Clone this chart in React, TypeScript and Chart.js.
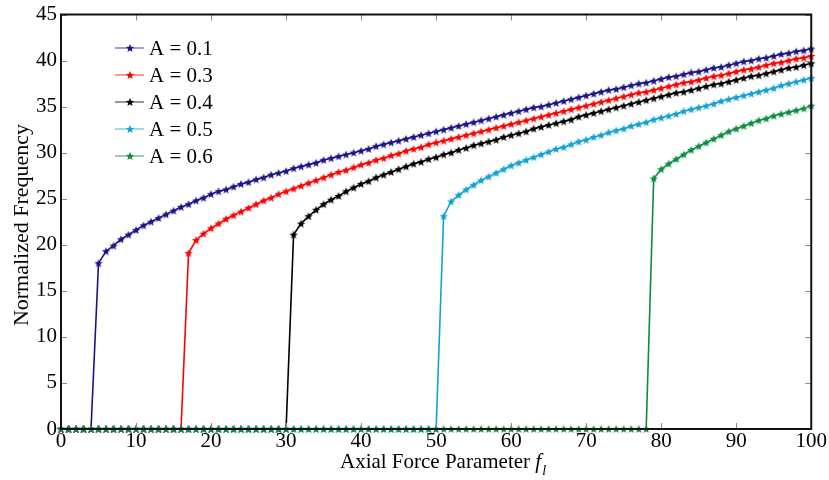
import React, { useEffect, useRef } from "react";
import { Chart, registerables } from "chart.js";

Chart.register(...registerables);

// x: axial force parameter f_l (integer steps 0..100)
const forceParam = [
  0, 1, 2, 3, 4, 5, 6, 7, 8, 9,
  10, 11, 12, 13, 14, 15, 16, 17, 18, 19,
  20, 21, 22, 23, 24, 25, 26, 27, 28, 29,
  30, 31, 32, 33, 34, 35, 36, 37, 38, 39,
  40, 41, 42, 43, 44, 45, 46, 47, 48, 49,
  50, 51, 52, 53, 54, 55, 56, 57, 58, 59,
  60, 61, 62, 63, 64, 65, 66, 67, 68, 69,
  70, 71, 72, 73, 74, 75, 76, 77, 78, 79,
  80, 81, 82, 83, 84, 85, 86, 87, 88, 89,
  90, 91, 92, 93, 94, 95, 96, 97, 98, 99,
  100,
];

const freqA01 = [
  0, 0, 0, 0, 0,
  18.0, 19.3, 19.9, 20.6, 21.1, 21.6, 22.1, 22.5, 22.9, 23.3,
  23.7, 24.1, 24.4, 24.8, 25.1, 25.5, 25.8, 26.0, 26.3, 26.6,
  26.8, 27.1, 27.3, 27.6, 27.8, 28.0, 28.3, 28.5, 28.7, 28.9,
  29.2, 29.4, 29.6, 29.8, 30.0, 30.2, 30.4, 30.7, 30.9, 31.1,
  31.3, 31.5, 31.7, 31.9, 32.1, 32.3, 32.5, 32.7, 32.9, 33.1,
  33.3, 33.5, 33.7, 33.9, 34.1, 34.3, 34.5, 34.7, 34.9, 35.0,
  35.2, 35.4, 35.6, 35.8, 36.0, 36.2, 36.4, 36.6, 36.8, 36.9,
  37.1, 37.3, 37.5, 37.6, 37.8, 38.0, 38.2, 38.3, 38.5, 38.7,
  38.8, 39.0, 39.2, 39.3, 39.5, 39.7, 39.9, 40.0, 40.2, 40.3,
  40.5, 40.7, 40.8, 41.0, 41.1, 41.3,
];

const freqA03 = [
  0, 0, 0, 0, 0, 0, 0, 0, 0, 0,
  0, 0, 0, 0, 0, 0, 0,
  19.1, 20.5, 21.2, 21.8, 22.3, 22.8, 23.2, 23.6,
  24.0, 24.4, 24.8, 25.1, 25.5, 25.8, 26.1, 26.4, 26.7, 27.0,
  27.3, 27.6, 27.9, 28.1, 28.4, 28.7, 28.9, 29.2, 29.4, 29.7,
  29.9, 30.2, 30.4, 30.6, 30.9, 31.1, 31.3, 31.5, 31.7, 31.9,
  32.1, 32.3, 32.5, 32.7, 32.9, 33.1, 33.3, 33.5, 33.7, 33.9,
  34.1, 34.3, 34.5, 34.7, 34.9, 35.1, 35.3, 35.5, 35.7, 35.9,
  36.1, 36.3, 36.5, 36.6, 36.8, 37.0, 37.2, 37.4, 37.6, 37.7,
  37.9, 38.1, 38.3, 38.4, 38.6, 38.8, 39.0, 39.1, 39.3, 39.5,
  39.7, 39.8, 40.0, 40.2, 40.3, 40.5,
];

const freqA04 = [
  0, 0, 0, 0, 0, 0, 0, 0, 0, 0,
  0, 0, 0, 0, 0, 0, 0, 0, 0, 0,
  0, 0, 0, 0, 0, 0, 0, 0, 0, 0,
  0,
  21.1, 22.3, 23.1, 23.8,
  24.4, 24.9, 25.3, 25.8, 26.2, 26.6, 26.9, 27.3, 27.6, 27.9,
  28.2, 28.5, 28.8, 29.0, 29.3, 29.5, 29.8, 30.0, 30.3, 30.5,
  30.8, 31.0, 31.2, 31.4, 31.7, 31.9, 32.1, 32.3, 32.6, 32.8,
  33.0, 33.2, 33.4, 33.6, 33.9, 34.1, 34.3, 34.5, 34.7, 34.9,
  35.1, 35.3, 35.5, 35.7, 35.9, 36.1, 36.3, 36.5, 36.6, 36.8,
  37.0, 37.2, 37.4, 37.5, 37.7, 37.9, 38.1, 38.3, 38.4, 38.6,
  38.8, 39.0, 39.2, 39.3, 39.5, 39.7,
];

const freqA05 = [
  0, 0, 0, 0, 0, 0, 0, 0, 0, 0,
  0, 0, 0, 0, 0, 0, 0, 0, 0, 0,
  0, 0, 0, 0, 0, 0, 0, 0, 0, 0,
  0, 0, 0, 0, 0, 0, 0, 0, 0, 0,
  0, 0, 0, 0, 0, 0, 0, 0, 0, 0,
  0,
  23.1, 24.7, 25.4, 26.0,
  26.5, 27.0, 27.4, 27.8, 28.2, 28.6, 28.9, 29.2, 29.5, 29.8,
  30.1, 30.4, 30.6, 30.9, 31.2, 31.4, 31.7, 31.9, 32.2, 32.4,
  32.6, 32.9, 33.1, 33.3, 33.6, 33.8, 34.0, 34.2, 34.5, 34.7,
  34.9, 35.1, 35.3, 35.6, 35.8, 36.0, 36.2, 36.4, 36.6, 36.8,
  37.0, 37.3, 37.5, 37.7, 37.9, 38.1,
];

const freqA06 = [
  0, 0, 0, 0, 0, 0, 0, 0, 0, 0,
  0, 0, 0, 0, 0, 0, 0, 0, 0, 0,
  0, 0, 0, 0, 0, 0, 0, 0, 0, 0,
  0, 0, 0, 0, 0, 0, 0, 0, 0, 0,
  0, 0, 0, 0, 0, 0, 0, 0, 0, 0,
  0, 0, 0, 0, 0, 0, 0, 0, 0, 0,
  0, 0, 0, 0, 0, 0, 0, 0, 0, 0,
  0, 0, 0, 0, 0, 0, 0, 0, 0,
  27.2, 28.2, 28.8, 29.3, 29.8, 30.3,
  30.7, 31.1, 31.5, 31.9, 32.3, 32.6, 32.9, 33.2, 33.5, 33.7,
  34.0, 34.2, 34.4, 34.6, 34.8, 35.1,
];

const seriesLabels = ["A = 0.1", "A = 0.3", "A = 0.4", "A = 0.5", "A = 0.6"];
const seriesValues = [freqA01, freqA03, freqA04, freqA05, freqA06];
const seriesColors = ["#1c1486", "#ff0000", "#000000", "#12a2d2", "#0c8c40"];

const xTickValues = [0, 10, 20, 30, 40, 50, 60, 70, 80, 90, 100];
const yTickValues = [0, 5, 10, 15, 20, 25, 30, 35, 40, 45];

const xTitle = "Axial Force Parameter ";
const xTitleVar = "f";
const xTitleSub = "l";
const yTitle = "Normalized Frequency";

const SERIF = '"Liberation Serif", "Times New Roman", Times, serif';

function makeStar(color: string, r: number): HTMLCanvasElement {
  const s = Math.ceil(r * 2 + 3);
  const c = document.createElement("canvas");
  c.width = s;
  c.height = s;
  const ctx = c.getContext("2d")!;
  ctx.fillStyle = color;
  ctx.beginPath();
  for (let i = 0; i < 10; i++) {
    const ang = -Math.PI / 2 + (i * Math.PI) / 5;
    const rr = i % 2 === 0 ? r : r * 0.45;
    const px = s / 2 + rr * Math.cos(ang);
    const py = s / 2 + 0.4 + rr * Math.sin(ang);
    if (i === 0) ctx.moveTo(px, py);
    else ctx.lineTo(px, py);
  }
  ctx.closePath();
  ctx.fill();
  return c;
}

let starCache: HTMLCanvasElement[] | null = null;
function getStars(): HTMLCanvasElement[] {
  if (!starCache) starCache = seriesColors.map((c) => makeStar(c, 4.3));
  return starCache;
}

const decorPlugin = {
  id: "decor",
  afterDatasetsDraw(chart: any) {
    const { ctx, chartArea } = chart;
    const { left, right, top, bottom } = chartArea;
    const xs = chart.scales.x;
    const ys = chart.scales.y;
    ctx.save();
    ctx.strokeStyle = "#8a8a8a";
    ctx.lineWidth = 1;
    const tl = 6;
    xTickValues.forEach((v) => {
      const px = Math.round(xs.getPixelForValue(v)) + 0.5;
      ctx.beginPath();
      ctx.moveTo(px, bottom);
      ctx.lineTo(px, bottom - tl);
      ctx.moveTo(px, top);
      ctx.lineTo(px, top + tl);
      ctx.stroke();
    });
    yTickValues.forEach((v) => {
      const py = Math.round(ys.getPixelForValue(v)) + 0.5;
      ctx.beginPath();
      ctx.moveTo(left, py);
      ctx.lineTo(left + tl, py);
      ctx.moveTo(right, py);
      ctx.lineTo(right - tl, py);
      ctx.stroke();
    });
    ctx.strokeStyle = "#111111";
    ctx.lineWidth = 2;
    ctx.strokeRect(left, top, right - left, bottom - top);
    ctx.restore();
  },
  afterDraw(chart: any) {
    const { ctx } = chart;
    ctx.save();
    const stars = getStars();
    seriesLabels.forEach((lab, i) => {
      const y = 48 + i * 27;
      ctx.globalAlpha = 0.55;
      ctx.strokeStyle = seriesColors[i];
      ctx.lineWidth = 1.5;
      ctx.beginPath();
      ctx.moveTo(115, y);
      ctx.lineTo(144, y);
      ctx.stroke();
      ctx.globalAlpha = 1;
      const st = stars[i];
      ctx.drawImage(st, 130 - st.width / 2, y - st.height / 2);
      ctx.fillStyle = "#000";
      ctx.font = `21px ${SERIF}`;
      ctx.textAlign = "left";
      ctx.textBaseline = "middle";
      ctx.fillText(lab, 149, y + 1);
    });
    ctx.fillStyle = "#000";
    ctx.textBaseline = "alphabetic";
    ctx.font = `21px ${SERIF}`;
    const w1 = ctx.measureText(xTitle).width;
    ctx.font = `italic 21px ${SERIF}`;
    const w2 = ctx.measureText(xTitleVar).width;
    ctx.font = `italic 14px ${SERIF}`;
    const w3 = ctx.measureText(xTitleSub).width;
    const total = w1 + w2 + w3 + 1;
    let x0 = 443 - total / 2;
    const base = 468;
    ctx.textAlign = "left";
    ctx.font = `21px ${SERIF}`;
    ctx.fillText(xTitle, x0, base);
    x0 += w1;
    ctx.font = `italic 21px ${SERIF}`;
    ctx.fillText(xTitleVar, x0, base);
    x0 += w2 + 1;
    ctx.font = `italic 14px ${SERIF}`;
    ctx.fillText(xTitleSub, x0, base + 7);
    ctx.translate(22, 225);
    ctx.rotate(-Math.PI / 2);
    ctx.font = `22px ${SERIF}`;
    ctx.textAlign = "center";
    ctx.textBaseline = "middle";
    ctx.fillText(yTitle, 0, 0);
    ctx.restore();
  },
};

export default function App() {
  const canvasRef = useRef<HTMLCanvasElement | null>(null);

  useEffect(() => {
    document.body.style.margin = "0";
    const canvas = canvasRef.current;
    if (!canvas) return;
    const stars = getStars();
    const datasets = seriesValues.map((vals, i) => ({
      label: seriesLabels[i],
      data: vals.map((v, k) => ({ x: forceParam[k], y: v })),
      borderColor: seriesColors[i],
      backgroundColor: seriesColors[i],
      borderWidth: 1.6,
      pointStyle: stars[i] as any,
      pointRadius: 4,
      pointHoverRadius: 4,
      tension: 0,
      clip: false as any,
      order: seriesLabels.length - i,
    }));
    const chart: any = new Chart(canvas, {
      type: "line",
      data: { datasets },
      plugins: [decorPlugin],
      options: {
        animation: false,
        responsive: false,
        devicePixelRatio: 1,
        layout: { padding: { top: 13, right: 17, left: 0, bottom: 0 } },
        plugins: {
          legend: { display: false },
          tooltip: { enabled: false },
          title: { display: false },
        },
        scales: {
          x: {
            type: "linear",
            min: 0,
            max: 100,
            afterBuildTicks: (s: any) => {
              s.ticks = xTickValues.map((v) => ({ value: v }));
            },
            afterFit: (s: any) => {
              s.height = 51;
            },
            grid: { display: false, drawTicks: false },
            border: { display: false },
            ticks: {
              color: "#000",
              padding: 2,
              maxRotation: 0,
              autoSkip: false,
              font: { family: SERIF, size: 21, lineHeight: 1 },
            },
          },
          y: {
            type: "linear",
            min: 0,
            max: 45,
            afterBuildTicks: (s: any) => {
              s.ticks = yTickValues.map((v) => ({ value: v }));
            },
            afterFit: (s: any) => {
              s.width = 61;
            },
            grid: { display: false, drawTicks: false },
            border: { display: false },
            ticks: {
              color: "#000",
              padding: 4,
              autoSkip: false,
              font: { family: SERIF, size: 21, lineHeight: 1 },
            },
          },
        },
      },
    });
    return () => chart.destroy();
  }, []);

  return (
    <div style={{ width: 829, height: 480, background: "#fff" }}>
      <canvas ref={canvasRef} width={829} height={480} style={{ display: "block", width: 829, height: 480 }} />
    </div>
  );
}
